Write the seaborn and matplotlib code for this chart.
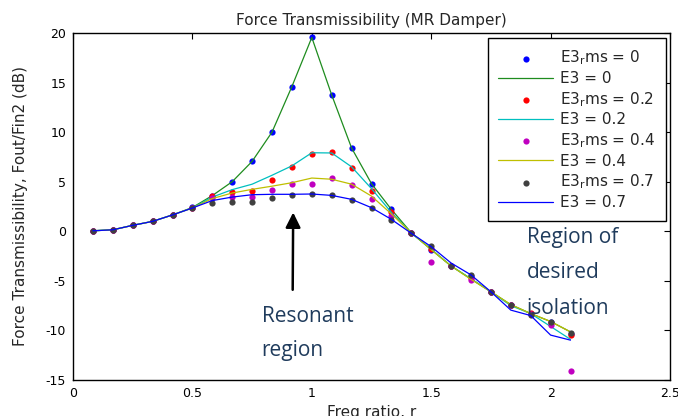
import numpy as np
import pandas as pd
import matplotlib
matplotlib.use("Agg")
import matplotlib.pyplot as plt
import seaborn as sns

# ---------------- data ----------------
freq_ratio = [k / 12 for k in range(1, 26)]

rms_0 = [0.05, 0.15, 0.6, 1.0, 1.65, 2.4, 3.6, 5.0, 7.05, 10.0, 14.6, 19.55,
         13.75, 8.4, 4.8, 2.2, -0.15, -1.9, -3.5, -4.5, -6.1, -7.4, -8.3, -9.2, -10.35]
e3_0 = [0.05, 0.15, 0.6, 1.0, 1.65, 2.4, 3.6, 5.0, 7.05, 10.0, 14.6, 19.55,
        13.75, 8.4, 4.8, 2.2, -0.15, -1.85, -3.5, -4.8, -6.1, -7.4, -8.3, -9.1, -10.15]

rms_02 = [0.05, 0.15, 0.6, 1.0, 1.65, 2.35, 3.52, 3.93, 4.1, 5.2, 6.5, 7.75,
          7.96, 6.42, 4.1, 1.95, -0.15, -1.8, -3.5, -4.7, -6.1, -7.4, -8.2, -9.3, -10.5]
e3_02 = [0.05, 0.15, 0.6, 1.0, 1.65, 2.35, 3.45, 4.2, 4.75, 5.65, 6.6, 7.92,
         7.9, 6.5, 4.3, 1.9, -0.2, -1.8, -3.5, -4.8, -6.1, -7.5, -8.3, -9.6, -10.9]

rms_04 = [0.05, 0.15, 0.6, 1.0, 1.65, 2.35, 3.4, 3.42, 3.45, 4.16, 4.8, 4.8,
          5.42, 4.7, 3.25, 1.5, -0.15, -3.12, -3.5, -4.9, -6.1, -7.4, -8.3, -9.45, -14.07]
e3_04 = [0.05, 0.15, 0.6, 1.0, 1.65, 2.35, 3.3, 3.86, 4.23, 4.55, 4.9, 5.37,
         5.25, 4.75, 3.55, 1.75, -0.15, -1.85, -3.5, -4.85, -6.1, -7.4, -8.3, -9.1, -10.15]

rms_07 = [0.05, 0.15, 0.6, 1.0, 1.65, 2.35, 2.89, 2.93, 2.92, 3.39, 3.65, 3.76,
          3.66, 3.12, 2.35, 1.12, -0.17, -1.48, -3.5, -4.43, -6.1, -7.4, -8.45, -9.2, -10.3]
e3_07 = [0.05, 0.15, 0.6, 1.0, 1.65, 2.35, 3.1, 3.45, 3.69, 3.73, 3.73, 3.76,
         3.62, 3.22, 2.38, 1.2, -0.2, -1.55, -3.2, -4.4, -6.1, -7.95, -8.5, -10.47, -10.98]

series = [
    (r"E3$_\mathregular{r}$ms = 0", rms_0, "E3 = 0", e3_0),
    (r"E3$_\mathregular{r}$ms = 0.2", rms_02, "E3 = 0.2", e3_02),
    (r"E3$_\mathregular{r}$ms = 0.4", rms_04, "E3 = 0.4", e3_04),
    (r"E3$_\mathregular{r}$ms = 0.7", rms_07, "E3 = 0.7", e3_07),
]
marker_colors = ["#0000FF", "#FF0000", "#C000C0", "#404040"]
line_colors = ["#1E8C1E", "#00BFBF", "#BFBF00", "#0000FF"]

x_ticks = [0, 0.5, 1, 1.5, 2, 2.5]
y_ticks = [-15, -10, -5, 0, 5, 10, 15, 20]

# ---------------- style ----------------
sns.set_style("white")
plt.rcParams["font.family"] = ["DejaVu Sans"]
plt.rcParams["axes.unicode_minus"] = False
plt.rcParams["mathtext.default"] = "regular"

fig = plt.figure(figsize=(6.78, 4.16), dpi=100)
ax = fig.add_axes([73 / 678, 1 - 380 / 416, 597 / 678, 347 / 416])

handles, labels = [], []
z = 3
for (mlab, my, llab, ly), mc, lc in zip(series, marker_colors, line_colors):
    df_m = pd.DataFrame({"r": freq_ratio, "v": my})
    sns.scatterplot(data=df_m, x="r", y="v", color=mc, s=20, linewidth=0,
                    ax=ax, zorder=z, legend=False)
    handles.append(ax.collections[-1]); labels.append(mlab)
    z += 1
    df_l = pd.DataFrame({"r": freq_ratio, "v": ly})
    sns.lineplot(data=df_l, x="r", y="v", color=lc, linewidth=0.9,
                 ax=ax, zorder=z, legend=False)
    handles.append(ax.lines[-1]); labels.append(llab)
    z += 1

ax.set_xlim(0, 2.5)
ax.set_ylim(-15, 20)
ax.set_xticks(x_ticks)
ax.set_xticklabels(["0", "0.5", "1", "1.5", "2", "2.5"])
ax.set_yticks(y_ticks)
ax.tick_params(direction="in", length=4, width=0.8, top=True, right=True,
               labelsize=9, colors="black", pad=5)
for sp in ax.spines.values():
    sp.set_color("black")
    sp.set_linewidth(1.0)

ax.set_title("Force Transmissibility (MR Damper)", fontsize=11, pad=6)
ax.set_xlabel("Freq ratio, r", fontsize=11, labelpad=4)
ax.set_ylabel("Force Transmissibility, Fout/Fin2 (dB)", fontsize=11, labelpad=13)

leg = ax.legend(handles, labels, loc="upper right", bbox_to_anchor=(0.993, 0.986),
                borderaxespad=0, fontsize=11, frameon=True, fancybox=False,
                edgecolor="black", framealpha=1, scatterpoints=1,
                handlelength=3.6, handletextpad=0.45, labelspacing=0.25,
                borderpad=0.7)
leg.get_frame().set_linewidth(1.0)
leg.set_zorder(20)

# annotations
txt_color = "#1F3B5C"
afont = dict(family=["Open Sans", "DejaVu Sans"], fontsize=15, color=txt_color, zorder=25)
ax.annotate("", xy=(0.922, 1.9), xytext=(0.92, -5.9),
            arrowprops=dict(arrowstyle="-|>,head_length=0.9,head_width=0.45",
                            color="black", lw=1.8, shrinkA=0, shrinkB=0), zorder=25)
ax.text(0.79, -9.16, "Resonant", ha="left", va="baseline", **afont)
ax.text(0.79, -12.6, "region", ha="left", va="baseline", **afont)
ax.text(1.90, -1.2, "Region of", ha="left", va="baseline", **afont)
ax.text(1.90, -4.7, "desired", ha="left", va="baseline", **afont)
ax.text(1.90, -8.3, "isolation", ha="left", va="baseline", **afont)

fig.savefig("out.png", dpi=100, facecolor="white")
